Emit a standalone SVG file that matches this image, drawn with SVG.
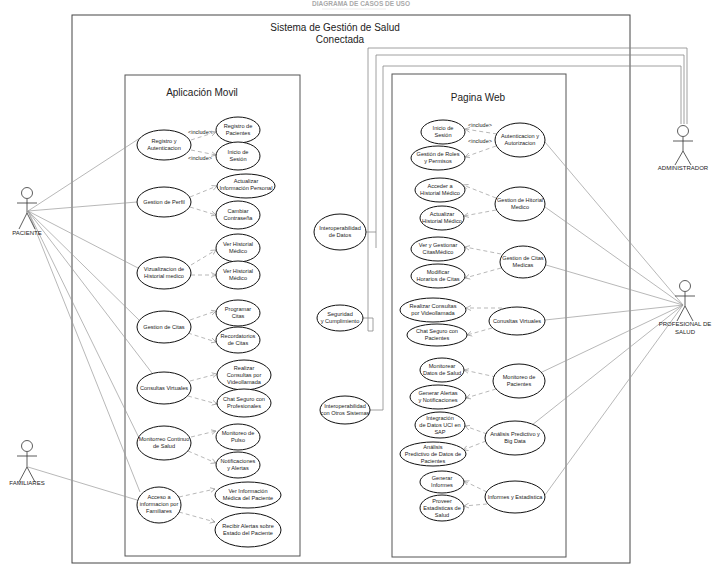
<svg xmlns="http://www.w3.org/2000/svg" width="722" height="573" viewBox="0 0 722 573">
<style>
text{font-family:"Liberation Sans",Arial,sans-serif;fill:#222;text-anchor:middle}
.u text{font-size:5.6px}
.u ellipse{fill:#fff;stroke:#111;stroke-width:1}
.box{fill:#fff;stroke:#555;stroke-width:1}
.a{stroke:#999;stroke-width:0.7;fill:none}
.d{stroke:#999;stroke-width:0.7;fill:none;stroke-dasharray:4 3;marker-end:url(#ar)}
.adm{stroke:#888;stroke-width:0.8;fill:none}
.act{stroke:#333;stroke-width:0.8;fill:none}
.lbl{font-size:6px}
.inc{font-size:5.5px}
</style>
<defs>
<marker id="ar" markerWidth="6" markerHeight="6" refX="5" refY="3" orient="auto" markerUnits="userSpaceOnUse">
<path d="M0,0.5 L5,3 L0,5.5" fill="none" stroke="#999" stroke-width="0.7"/>
</marker>
</defs>
<rect width="722" height="573" fill="#fff"/>
<text x="361" y="6" style="font-size:6.5px;fill:#aaa;font-weight:bold">DIAGRAMA DE CASOS DE USO</text>
<line x1="322" y1="9" x2="386" y2="9" stroke="#ddd" stroke-width="0.6"/>

<g id="system">
<rect x="72" y="15" width="558" height="548" fill="#fff" stroke="#444" stroke-width="1"/>
<text x="335" y="31" style="font-size:10px">Sistema de Gestión de Salud</text>
<text x="340" y="43" style="font-size:10px">Conectada</text>
</g>
<g id="movil">
<rect class="box" x="125" y="75" width="175" height="481"/>
<text x="202" y="96" style="font-size:10px">Aplicación Movil</text>
</g>
<g id="web">
<rect class="box" x="392" y="74" width="174" height="483"/>
<text x="478" y="101" style="font-size:10px">Pagina Web</text>
</g>

<g id="connectors">
<path class="adm" d="M366,232 H376 M376,248 V55 H684 V124"/>
<path class="adm" d="M363,318 H373 V331 H368 V48 H687 V124"/>
<path class="adm" d="M370,410 H383 V66 H681 V124"/>
<line class="a" x1="28" y1="211" x2="140" y2="138"/>
<line class="a" x1="28" y1="211" x2="137" y2="202"/>
<line class="a" x1="28" y1="211" x2="138" y2="268"/>
<line class="a" x1="28" y1="211" x2="139" y2="320"/>
<line class="a" x1="28" y1="211" x2="152" y2="373"/>
<line class="a" x1="28" y1="211" x2="140" y2="440"/>
<line class="a" x1="28" y1="211" x2="140" y2="492"/>
<line class="a" x1="28" y1="467" x2="137" y2="500"/>
<line class="a" x1="683" y1="305" x2="545" y2="142"/>
<line class="a" x1="683" y1="305" x2="545" y2="207"/>
<line class="a" x1="683" y1="305" x2="546" y2="265"/>
<line class="a" x1="683" y1="305" x2="545" y2="320"/>
<line class="a" x1="683" y1="305" x2="540" y2="373"/>
<line class="a" x1="683" y1="305" x2="532" y2="425"/>
<line class="a" x1="683" y1="305" x2="545" y2="495"/>
<path class="d" d="M191,140 L216,132"/>
<path class="d" d="M191,150 L216,155"/>
<path class="d" d="M190,197 L217,186"/>
<path class="d" d="M190,207 L216,215"/>
<path class="d" d="M191,265 L216,250"/>
<path class="d" d="M191,275 L216,275"/>
<path class="d" d="M190,320 L216,311"/>
<path class="d" d="M188,333 L216,342"/>
<path class="d" d="M190,381 L217,374"/>
<path class="d" d="M188,396 L217,404"/>
<path class="d" d="M191,437 L216,431"/>
<path class="d" d="M188,451 L216,463"/>
<path class="d" d="M179,497 L215,489"/>
<path class="d" d="M179,512 L215,522"/>
<path class="d" d="M497,134 L465,129"/>
<path class="d" d="M496,146 L465,157"/>
<path class="d" d="M496,198 L463,185"/>
<path class="d" d="M496,210 L464,216"/>
<path class="d" d="M501,254 L465,247"/>
<path class="d" d="M501,268 L465,278"/>
<path class="d" d="M502,308 L466,308"/>
<path class="d" d="M492,328 L467,335"/>
<path class="d" d="M496,377 L464,370"/>
<path class="d" d="M496,389 L466,398"/>
<path class="d" d="M487,434 L465,426"/>
<path class="d" d="M486,441 L463,450"/>
<path class="d" d="M487,492 L464,481"/>
<path class="d" d="M487,504 L464,506"/>
<text class="inc" x="200" y="134">&lt;include&gt;</text>
<text class="inc" x="200" y="160">&lt;include&gt;</text>
<text class="inc" x="480" y="127">&lt;include&gt;</text>
<text class="inc" x="480" y="143">&lt;include&gt;</text>
</g>

<g id="paciente"><circle class="act" cx="27" cy="193" r="5.5"/><path class="act" d="M27,199 V213 M17,203 H37 M27,213 L19,229 M27,213 L35,229"/><text class="lbl" x="27" y="235">PACIENTE</text></g>
<g id="familiares"><circle class="act" cx="27" cy="446" r="5.5"/><path class="act" d="M27,452 V467 M17,456 H37 M27,467 L19,482 M27,467 L35,482"/><text class="lbl" x="27" y="485">FAMILIARES</text></g>
<g id="administrador"><circle class="act" cx="683" cy="131" r="5.5"/><path class="act" d="M683,137 V151 M673,141 H693 M683,151 L675,165 M683,151 L691,165"/><text class="lbl" x="683" y="170">ADMINISTRADOR</text></g>
<g id="profesional"><circle class="act" cx="685" cy="286" r="5.5"/><path class="act" d="M685,292 V306 M675,296 H695 M685,306 L677,321 M685,306 L693,321"/><text class="lbl" x="685" y="326">PROFESIONAL DE</text><text class="lbl" x="685" y="334">SALUD</text></g>

<g class="u">
<g id="m1"><ellipse cx="164" cy="145" rx="27" ry="15"/><text x="164" y="143">Registro y</text><text x="164" y="150">Autenticacion</text></g>
<g id="m2"><ellipse cx="238" cy="130" rx="22" ry="13"/><text x="238" y="128">Registro de</text><text x="238" y="135">Pacientes</text></g>
<g id="m3"><ellipse cx="238" cy="156" rx="22" ry="14"/><text x="238" y="154">Inicio de</text><text x="238" y="161">Sesión</text></g>
<g id="m4"><ellipse cx="164" cy="202" rx="27" ry="15"/><text x="164" y="204">Gestion de Perfil</text></g>
<g id="m5"><ellipse cx="246" cy="186" rx="29" ry="12"/><text x="246" y="183">Actualizar</text><text x="246" y="190">Información Personal</text></g>
<g id="m6"><ellipse cx="238" cy="215" rx="22" ry="14"/><text x="238" y="213">Cambiar</text><text x="238" y="220">Contraseña</text></g>
<g id="m7"><ellipse cx="164" cy="273" rx="27" ry="16"/><text x="164" y="271">Vizualizacion de</text><text x="164" y="278">Historial medico</text></g>
<g id="m8"><ellipse cx="238" cy="248" rx="22" ry="14"/><text x="238" y="246">Ver Historial</text><text x="238" y="253">Médico</text></g>
<g id="m9"><ellipse cx="238" cy="275" rx="22" ry="14"/><text x="238" y="273">Ver Historial</text><text x="238" y="280">Médico</text></g>
<g id="m10"><ellipse cx="164" cy="327" rx="27" ry="16"/><text x="164" y="329">Gestion de Citas</text></g>
<g id="m11"><ellipse cx="238" cy="313" rx="22" ry="13"/><text x="238" y="311">Programar</text><text x="238" y="318">Citas</text></g>
<g id="m12"><ellipse cx="238" cy="340" rx="22" ry="13"/><text x="238" y="338">Recordatorios</text><text x="238" y="345">de Citas</text></g>
<g id="m13"><ellipse cx="164" cy="388" rx="27" ry="16"/><text x="164" y="390">Consultas Virtuales</text></g>
<g id="m14"><ellipse cx="244" cy="375" rx="27" ry="15"/><text x="244" y="370">Realizar</text><text x="244" y="377">Consultas por</text><text x="244" y="384">Videollamada</text></g>
<g id="m15"><ellipse cx="244" cy="403" rx="27" ry="14"/><text x="244" y="401">Chat Seguro con</text><text x="244" y="408">Profesionales</text></g>
<g id="m16"><ellipse cx="164" cy="443" rx="27" ry="17"/><text x="164" y="441">Monitorreo Continuo</text><text x="164" y="448">de Salud</text></g>
<g id="m17"><ellipse cx="238" cy="437" rx="22" ry="13"/><text x="238" y="435">Monitoreo de</text><text x="238" y="442">Pulso</text></g>
<g id="m18"><ellipse cx="238" cy="465" rx="22" ry="13"/><text x="238" y="463">Notificaciones</text><text x="238" y="470">y Alertas</text></g>
<g id="m19"><ellipse cx="159" cy="505" rx="22" ry="18"/><text x="159" y="499">Acceso a</text><text x="159" y="506">informacion por</text><text x="159" y="513">Familiares</text></g>
<g id="m20"><ellipse cx="248" cy="495" rx="33" ry="13"/><text x="248" y="493">Ver Información</text><text x="248" y="500">Médica del Paciente</text></g>
<g id="m21"><ellipse cx="248" cy="530" rx="33" ry="17"/><text x="248" y="528">Recibir Alertas sobre</text><text x="248" y="535">Estado del Paciente</text></g>

<g id="i1"><ellipse cx="340" cy="232" rx="26" ry="18"/><text x="340" y="230">Interoperabilidad</text><text x="340" y="237">de Datos</text></g>
<g id="i2"><ellipse cx="340" cy="318" rx="23" ry="13"/><text x="340" y="316">Seguridad</text><text x="340" y="323">y Cumplimiento</text></g>
<g id="i3"><ellipse cx="345" cy="410" rx="25" ry="14"/><text x="345" y="408">Interoperabilidad</text><text x="345" y="415">con Otros Sistemas</text></g>

<g id="w1"><ellipse cx="443" cy="132" rx="22" ry="12"/><text x="443" y="130">Inicio de</text><text x="443" y="137">Sesión</text></g>
<g id="w2"><ellipse cx="520" cy="140" rx="25" ry="17"/><text x="520" y="138">Autenticacion y</text><text x="520" y="145">Autorizacion</text></g>
<g id="w3"><ellipse cx="438" cy="158" rx="27" ry="12"/><text x="438" y="156">Gestión de Roles</text><text x="438" y="163">y Permisos</text></g>
<g id="w4"><ellipse cx="440" cy="190" rx="25" ry="12"/><text x="440" y="188">Acceder a</text><text x="440" y="195">Historial Médico</text></g>
<g id="w5"><ellipse cx="442" cy="218" rx="22" ry="12"/><text x="442" y="216">Actualizar</text><text x="442" y="223">Historial Médico</text></g>
<g id="w6"><ellipse cx="520" cy="204" rx="25" ry="17"/><text x="520" y="202">Gestion de Hitorial</text><text x="520" y="209">Medico</text></g>
<g id="w7"><ellipse cx="438" cy="249" rx="27" ry="12"/><text x="438" y="247">Ver y Gestionar</text><text x="438" y="254">CitasMédico</text></g>
<g id="w8"><ellipse cx="438" cy="276" rx="27" ry="12"/><text x="438" y="274">Modificar</text><text x="438" y="281">Horarios de Citas</text></g>
<g id="w9"><ellipse cx="523" cy="262" rx="23" ry="16"/><text x="523" y="260">Gestion de Citas</text><text x="523" y="267">Medicas</text></g>
<g id="w10"><ellipse cx="433" cy="310" rx="33" ry="12"/><text x="433" y="308">Realizar Consultas</text><text x="433" y="315">por Videollamada</text></g>
<g id="w11"><ellipse cx="437" cy="335" rx="30" ry="11"/><text x="437" y="333">Chat Seguro con</text><text x="437" y="340">Pacientes</text></g>
<g id="w12"><ellipse cx="517" cy="321" rx="28" ry="14"/><text x="517" y="323">Conusltas Virtuales</text></g>
<g id="w13"><ellipse cx="442" cy="370" rx="22" ry="12"/><text x="442" y="368">Monitorear</text><text x="442" y="375">Datos de Salud</text></g>
<g id="w14"><ellipse cx="438" cy="397" rx="28" ry="12"/><text x="438" y="395">Generar Alertas</text><text x="438" y="402">y Notificaciones</text></g>
<g id="w15"><ellipse cx="519" cy="381" rx="26" ry="17"/><text x="519" y="379">Monitoreo de</text><text x="519" y="386">Pacientes</text></g>
<g id="w16"><ellipse cx="440" cy="425" rx="25" ry="13"/><text x="440" y="420">Integración</text><text x="440" y="427">de Datos UCI en</text><text x="440" y="434">SAP</text></g>
<g id="w17"><ellipse cx="433" cy="454" rx="33" ry="12"/><text x="433" y="449">Análisis</text><text x="433" y="456">Predictivo de Datos de</text><text x="433" y="463">Pacientes</text></g>
<g id="w18"><ellipse cx="515" cy="438" rx="30" ry="17"/><text x="515" y="436">Análisis Predictivo y</text><text x="515" y="443">Big Data</text></g>
<g id="w19"><ellipse cx="442" cy="482" rx="22" ry="11"/><text x="442" y="480">Generar</text><text x="442" y="487">Informes</text></g>
<g id="w20"><ellipse cx="442" cy="508" rx="22" ry="13"/><text x="442" y="503">Proveer</text><text x="442" y="510">Estadisticas de</text><text x="442" y="517">Salud</text></g>
<g id="w21"><ellipse cx="515" cy="497" rx="30" ry="16"/><text x="515" y="499">Informes y Estadistica</text></g>
</g>
</svg>
